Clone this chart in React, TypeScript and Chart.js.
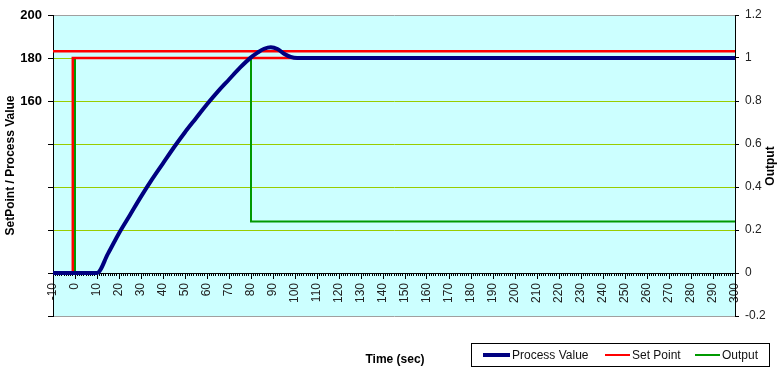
import { useEffect, useRef } from "react";
import { Chart, registerables } from "chart.js";

Chart.register(...registerables);

// ---- data ----
const pvTime = [-10, 10, 15, 20, 25, 30, 35, 40, 45, 50, 55, 60, 65, 70, 75, 80, 83, 86, 89, 92, 95, 98, 101, 110, 300];
const pvValue = [80, 80, 89, 98.5, 107, 115.5, 123.5, 131, 138.5, 145.5, 152, 158.5, 164.5, 170, 175.5, 180.3, 182.5, 184.3, 185, 184.2, 182, 180.5, 180, 180, 180];

const spTime = [-10, -1, -1, 300];
const spValue = [80, 80, 180, 180];

const bandTime = [-10, 300];
const bandValue = [183.1, 183.1];

const outTime = [-10, 0, 0, 80, 80, 300];
const outValue = [0, 0, 1, 1, 0.24, 0.24];

const leftLabelled = [200, 180, 160];
const seriesLabels = ["Process Value", "Set Point", "Output"];
const seriesColors = ["#000080", "#ff0000", "#009900"];
const xTitle = "Time (sec)";
const yTitle = "SetPoint / Process Value";
const y1Title = "Output";

const zip = (xs: number[], ys: number[]) => xs.map((x, i) => ({ x, y: ys[i] }));

const BASE_FONT = "'Liberation Sans', Arial, sans-serif";

const decor = {
  id: "decor",
  beforeDraw(chart: any) {
    const { ctx, chartArea: a } = chart;
    ctx.save();
    ctx.fillStyle = "#ccffff";
    ctx.fillRect(a.left, a.top, a.right - a.left, a.bottom - a.top);
    ctx.restore();
  },
  afterDraw(chart: any) {
    const { ctx } = chart;
    ctx.save();
    // x title
    ctx.fillStyle = "#000";
    ctx.font = `bold 12px ${BASE_FONT}`;
    ctx.textAlign = "center";
    ctx.textBaseline = "middle";
    ctx.fillText(xTitle, 395, 360);
    // right title, reading bottom to top
    ctx.save();
    ctx.translate(771, 166);
    ctx.rotate(-Math.PI / 2);
    ctx.fillText(y1Title, 0, 0);
    ctx.restore();
    // legend
    ctx.strokeStyle = "#000";
    ctx.lineWidth = 1;
    ctx.strokeRect(471.5, 343.5, 298, 23);
    const items = [
      { x1: 483, x2: 510, w: 4 },
      { x1: 605, x2: 630, w: 2 },
      { x1: 695, x2: 720, w: 2 },
    ];
    ctx.font = `12px ${BASE_FONT}`;
    ctx.textAlign = "left";
    items.forEach((it, i) => {
      ctx.strokeStyle = seriesColors[i];
      ctx.lineWidth = it.w;
      ctx.beginPath();
      ctx.moveTo(it.x1, 355);
      ctx.lineTo(it.x2, 355);
      ctx.stroke();
      ctx.fillStyle = "#111";
      ctx.fillText(seriesLabels[i], it.x2 + 2, 355.5);
    });
    ctx.restore();
  },
};

export default function App() {
  const ref = useRef<HTMLCanvasElement | null>(null);
  useEffect(() => {
    document.body.style.margin = "0";
    document.body.style.overflow = "hidden";
    const canvas = ref.current;
    if (!canvas) return;
    const chart = new Chart(canvas, {
      type: "line",
      data: {
        datasets: [
          {
            label: seriesLabels[0],
            data: zip(pvTime, pvValue),
            borderColor: seriesColors[0],
            borderWidth: 4,
            pointRadius: 0,
            cubicInterpolationMode: "monotone",
            yAxisID: "y",
          },
          {
            label: seriesLabels[1],
            data: zip(spTime, spValue),
            borderColor: seriesColors[1],
            borderWidth: 2.5,
            pointRadius: 0,
            tension: 0,
            yAxisID: "y",
          },
          {
            label: "",
            data: zip(bandTime, bandValue),
            borderColor: seriesColors[1],
            borderWidth: 2.5,
            pointRadius: 0,
            tension: 0,
            yAxisID: "y",
          },
          {
            label: seriesLabels[2],
            data: zip(outTime, outValue),
            borderColor: seriesColors[2],
            borderWidth: 2,
            pointRadius: 0,
            tension: 0,
            yAxisID: "y1",
          },
        ],
      },
      options: {
        animation: false,
        responsive: false,
        layout: { padding: { top: 15, bottom: 58, left: 0, right: 0 } },
        plugins: { legend: { display: false }, tooltip: { enabled: false } },
        scales: {
          x: {
            type: "linear",
            min: -10,
            max: 300,
            position: { y: 80 } as any,
            ticks: {
              stepSize: 10,
              minRotation: 90,
              maxRotation: 90,
              autoSkip: false,
              padding: 5,
              color: "#222",
              font: { size: 12, family: BASE_FONT },
            },
            grid: { drawOnChartArea: false, tickLength: 5, tickColor: "#000" },
            border: { color: "#000", width: 1 },
          },
          x2: {
            type: "linear",
            min: -10,
            max: 300,
            position: { y: 80 } as any,
            ticks: { display: false, stepSize: 1 },
            grid: { drawOnChartArea: false, tickLength: 3, tickColor: "#000" },
            border: { display: false },
          },
          y: {
            type: "linear",
            position: "left",
            min: 60,
            max: 200,
            afterFit: (s: any) => {
              s.width = 53;
            },
            ticks: {
              stepSize: 20,
              padding: 6,
              color: "#000",
              font: { size: 13, weight: "bold", family: BASE_FONT },
              callback: (v: any) => (leftLabelled.includes(Number(v)) ? String(v) : ""),
            },
            grid: {
              tickLength: 5,
              tickColor: "#000",
              color: (c: any) => {
                const v = c.tick?.value;
                if (v === 200 || v === 60) return "#a0a0a0";
                if (v === 80) return "rgba(0,0,0,0)";
                return "#99cc00";
              },
            },
            border: { color: "#000", width: 1 },
            title: {
              display: true,
              text: yTitle,
              color: "#000",
              font: { size: 12, weight: "bold", family: BASE_FONT },
              padding: { top: 3, bottom: 0 },
            },
          },
          y1: {
            type: "linear",
            position: "right",
            min: -0.2,
            max: 1.2,
            afterFit: (s: any) => {
              s.width = 49;
            },
            ticks: {
              stepSize: 0.2,
              padding: 6,
              color: "#222",
              font: { size: 12, family: BASE_FONT },
              callback: (v: any) => String(Number(Number(v).toFixed(1))),
            },
            grid: { drawOnChartArea: false, tickLength: 4, tickColor: "#000" },
            border: { color: "#000", width: 1 },
          },
        },
      } as any,
      plugins: [decor],
    });
    return () => chart.destroy();
  }, []);
  return (
    <div style={{ width: 784, height: 374 }}>
      <canvas ref={ref} width={784} height={374} style={{ display: "block" }} />
    </div>
  );
}
